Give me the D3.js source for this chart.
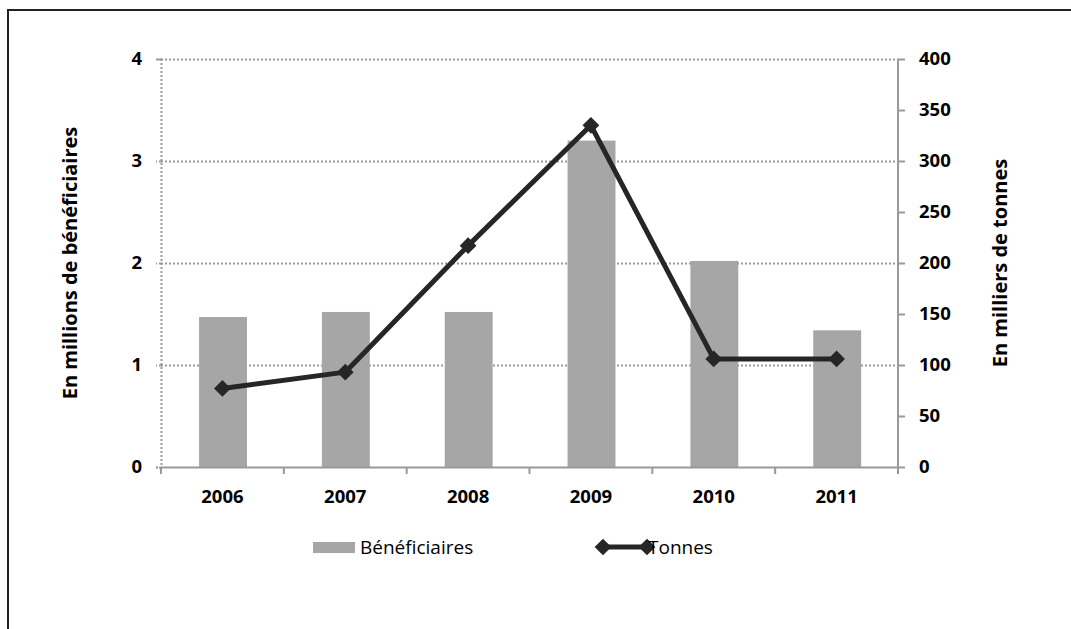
<!DOCTYPE html>
<html>
<head>
<meta charset="utf-8">
<script src="https://cdn.jsdelivr.net/npm/d3@7"></script>
<style>
  body { margin: 0; background: #fff; }
  text { font-family: "Open Sans", sans-serif; }
</style>
</head>
<body>
<svg></svg>
<script>
const width = 1071
const height = 629

// data
const years = ['2006', '2007', '2008', '2009', '2010', '2011']
const beneficiaires = [1.47, 1.52, 1.52, 3.2, 2.02, 1.34]   // millions
const tonnes = [77, 93, 217, 335, 106, 106]                    // milliers de tonnes
const leftTicks = [0, 1, 2, 3, 4]
const rightTicks = [0, 50, 100, 150, 200, 250, 300, 350, 400]

const plot = { left: 161, right: 898, top: 59, bottom: 467 }
const tickFont = 18.5

const svg = d3.select('svg').attr('width', width).attr('height', height)

// outer frame (only top and left visible)
svg.append('path')
  .attr('d', `M8,${height} V10 H${width}`)
  .attr('fill', 'none')
  .attr('stroke', '#222')
  .attr('stroke-width', 2)

const x = d3.scaleBand().domain(years).range([plot.left, plot.right])
const yLeft = d3.scaleLinear().domain([0, 4]).range([plot.bottom, plot.top])
const yRight = d3.scaleLinear().domain([0, 400]).range([plot.bottom, plot.top])

// gridlines
svg.append('g')
  .selectAll('line')
  .data(leftTicks.filter(d => d > 0))
  .enter().append('line')
  .attr('x1', plot.left).attr('x2', plot.right)
  .attr('y1', d => yLeft(d) + 0.5).attr('y2', d => yLeft(d) + 0.5)
  .attr('stroke', '#999')
  .attr('stroke-width', 2)
  .attr('stroke-dasharray', '2,2')

function styleText(g) {
  g.selectAll('text')
    .attr('font-size', tickFont).attr('font-weight', 'bold').attr('fill', '#000')
    .style('font-family', '"Open Sans", sans-serif')
}

// left axis (dotted)
const gl = svg.append('g').attr('transform', `translate(${plot.left},0)`)
  .call(d3.axisLeft(yLeft).tickValues(leftTicks).tickSize(5).tickPadding(14).tickFormat(d3.format('d')))
gl.selectAll('.domain, .tick line')
  .attr('stroke', '#999').attr('stroke-width', 2).attr('stroke-dasharray', '2,2')
styleText(gl)

// bars
svg.append('g')
  .selectAll('rect')
  .data(beneficiaires)
  .enter().append('rect')
  .attr('x', (d, i) => x(years[i]) + x.bandwidth() * 0.31)
  .attr('width', x.bandwidth() * 0.39)
  .attr('y', d => yLeft(d))
  .attr('height', d => plot.bottom - yLeft(d))
  .attr('fill', '#a6a6a6')

// bottom axis
const gb = svg.append('g').attr('transform', `translate(0,${plot.bottom})`)
  .call(d3.axisBottom(x).tickSize(0).tickPadding(23))
gb.select('.domain').attr('stroke', '#999').attr('stroke-width', 2)
styleText(gb)
svg.append('g')
  .selectAll('line')
  .data(years.concat(['end']))
  .enter().append('line')
  .attr('x1', (d, i) => plot.left + i * x.step())
  .attr('x2', (d, i) => plot.left + i * x.step())
  .attr('y1', plot.bottom).attr('y2', plot.bottom + 7)
  .attr('stroke', '#999').attr('stroke-width', 2)

// right axis
const gr = svg.append('g').attr('transform', `translate(${plot.right},0)`)
  .call(d3.axisRight(yRight).tickValues(rightTicks).tickSize(7).tickPadding(14))
gr.selectAll('.domain, .tick line').attr('stroke', '#999').attr('stroke-width', 2)
gr.select('.domain').attr('d', `M0,${plot.top}V${plot.bottom + 7}`)
styleText(gr)

// line series
const line = d3.line()
  .x((d, i) => x(years[i]) + x.bandwidth() / 2)
  .y(d => yRight(d))
svg.append('path')
  .datum(tonnes)
  .attr('d', line)
  .attr('fill', 'none')
  .attr('stroke', '#262626')
  .attr('stroke-width', 5)
  .attr('stroke-linejoin', 'round')

const marker = d3.symbol().type(d3.symbolSquare).size(140)
svg.append('g')
  .selectAll('path')
  .data(tonnes)
  .enter().append('path')
  .attr('transform', (d, i) => `translate(${x(years[i]) + x.bandwidth() / 2},${yRight(d)}) rotate(45)`)
  .attr('d', marker)
  .attr('fill', '#262626')

// axis titles
svg.append('text')
  .attr('transform', `translate(77,263) rotate(-90)`)
  .attr('text-anchor', 'middle')
  .attr('font-size', 20).attr('font-weight', 'bold')
  .text('En millions de bénéficiaires')
svg.append('text')
  .attr('transform', `translate(1007,263) rotate(-90)`)
  .attr('text-anchor', 'middle')
  .attr('font-size', 20).attr('font-weight', 'bold')
  .text('En milliers de tonnes')

// legend
const lg = svg.append('g')
lg.append('rect').attr('x', 313).attr('y', 542).attr('width', 42).attr('height', 11).attr('fill', '#a6a6a6')
lg.append('text').attr('x', 360).attr('y', 554).attr('font-size', 19).text('Bénéficiaires')
lg.append('line').attr('x1', 603).attr('x2', 647).attr('y1', 547).attr('y2', 547)
  .attr('stroke', '#262626').attr('stroke-width', 5)
lg.selectAll('.lm')
  .data([603, 647])
  .enter().append('path')
  .attr('transform', d => `translate(${d},547) rotate(45)`)
  .attr('d', marker)
  .attr('fill', '#262626')
lg.append('text').attr('x', 648).attr('y', 554).attr('font-size', 19).text('Tonnes')
</script>
</body>
</html>
